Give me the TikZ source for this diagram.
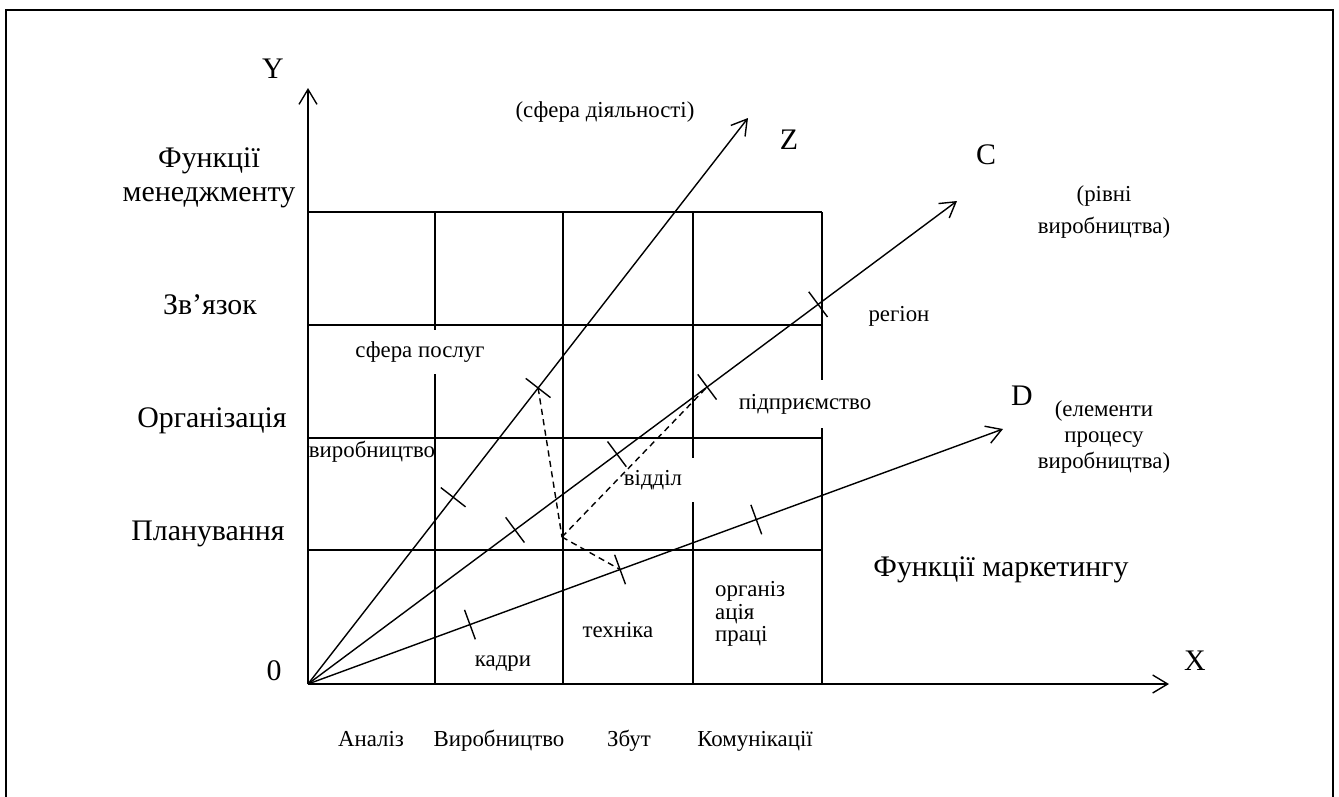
\documentclass[tikz,border=0pt]{standalone}
\usepackage{fontspec}
\setmainfont{Liberation Serif}
\usetikzlibrary{arrows.meta}
\begin{document}
\begin{tikzpicture}[x=0.02cm,y=-0.02cm]
	% Styles (MODIFIABLES)
	\tikzstyle{fleche}=[-{Straight Barb[length=3mm,width=3.6mm]},line width=0.8pt]
	\tikzstyle{trait}=[line width=0.8pt]
	\tikzstyle{pointille}=[line width=0.8pt,dash pattern=on 3.5pt off 2.5pt]
	\tikzstyle{cadre}=[line width=1.3pt]
	\tikzstyle{grandbloc}=[font=\fontsize{17}{19}\selectfont]
	\tikzstyle{grand}=[grandbloc,text height=12pt,text depth=3.5pt]
	\tikzstyle{petitbloc}=[font=\fontsize{13}{15}\selectfont]
	\tikzstyle{petit}=[petitbloc,text height=9.5pt,text depth=3pt]
	\tikzstyle{cache}=[petit,fill=white,inner sep=2pt,minimum height=0.88cm]
	\tikzstyle{encoche}=[sloped,inner sep=0pt,minimum width=0pt,minimum height=0.6cm]
	% Dimensions (MODIFIABLES)
	\def\ColA{308} \def\ColB{435} \def\ColC{563} \def\ColD{693} \def\ColE{822}
	\def\LigA{212} \def\LigB{325} \def\LigC{438} \def\LigD{550} \def\LigE{684}
	\useasboundingbox (0,0) rectangle (1339,796);
	\draw[cadre] (6,800) -- (6,10) -- (1333,10) -- (1333,800);
	% Grille
	\draw[trait] (\ColA,\LigA) -- (\ColE,\LigA);
	\draw[trait] (\ColA,\LigB) -- (\ColE,\LigB);
	\draw[trait] (\ColA,\LigC) -- (\ColE,\LigC);
	\draw[trait] (\ColA,\LigD) -- (\ColE,\LigD);
	\draw[trait] (\ColB,\LigA) -- (\ColB,\LigE);
	\draw[trait] (\ColC,\LigA) -- (\ColC,\LigE);
	\draw[trait] (\ColD,\LigA) -- (\ColD,\LigE);
	\draw[trait] (\ColE,\LigA) -- (\ColE,\LigE);
	% Noeuds (MODIFIABLES)
	\coordinate (O) at (\ColA,\LigE);
	\coordinate (Yfin) at (\ColA,88);
	\coordinate (Xfin) at (1169,\LigE);
	\coordinate (Zfin) at (748,118);
	\coordinate (Cfin) at (957,201);
	\coordinate (Dfin) at (1003,429);
	\coordinate (P) at (562,537);
	%
	\node[grand] (lY) at (273,71) {Y};
	\node[grand] (lX) at (1195,663) {X};
	\node[grand] (l0) at (274,673) {0};
	\node[grand] (lZ) at (789,142) {Z};
	\node[grand] (lC) at (986,157) {C};
	\node[grand] (lD) at (1022,398) {D};
	\node[petit] (sphere) at (605,112) {(сфера діяльності)};
	\node[petitbloc,align=center] (niveaux) at (1104,212) {(рівні\\[3pt]виробництва)};
	\node[petitbloc,align=center,font=\fontsize{13}{14.8}\selectfont] (elements) at (1104,437) {(елементи\\процесу\\виробництва)};
	\node[grand] (marketing) at (1001,569) {Функції маркетингу};
	%
	\node[grandbloc,align=center] (management) at (209,178) {Функції\\менеджменту};
	\node[grand] (lien) at (210,307) {Зв’язок};
	\node[grand] (organisation) at (212,420) {Організація};
	\node[grand] (planification) at (208,533) {Планування};
	%
	\node[petit] (analyse) at (371,741) {Аналіз};
	\node[petit] (production) at (499,741) {Виробництво};
	\node[petit] (vente) at (629,741) {Збут};
	\node[petit] (communication) at (755,741) {Комунікації};
	%
	\node[cache] (services) at (420,352) {сфера послуг};
	\node[cache,minimum width=2cm] (departement) at (653,480) {відділ};
	\node[cache,minimum height=0.96cm] (entreprise) at (805,404) {підприємство};
	\node[petit] (industrie) at (372,452) {виробництво};
	\node[petit] (region) at (899,316) {регіон};
	\node[petit] (personnel) at (503,661) {кадри};
	\node[petit] (technique) at (618,632) {техніка};
	\node[petitbloc,align=left,anchor=west,font=\fontsize{13}{12.8}\selectfont] (travail) at (709,614) {організ\\ація\\праці};
	% Arcs (MODIFIABLES : Styles)
	\draw[fleche] (O) -- (Yfin);
	\draw[fleche] (O) -- (Xfin);
	\draw[fleche] (O) -- (Zfin) node[encoche,pos=0.33] (Za) {} node[encoche,pos=0.523] (Zb) {};
	\draw[fleche] (O) -- (Cfin) node[encoche,pos=0.319] (Ca) {} node[encoche,pos=0.476] (Cb) {}
		node[encoche,pos=0.615] (Cc) {} node[encoche,pos=0.786] (Cd) {};
	\draw[fleche] (O) -- (Dfin) node[encoche,pos=0.233] (Da) {} node[encoche,pos=0.449] (Db) {}
		node[encoche,pos=0.645] (Dc) {};
	%
	\draw[trait] (Za.north) -- (Za.south);
	\draw[trait] (Zb.north) -- (Zb.south);
	\draw[trait] (Ca.north) -- (Ca.south);
	\draw[trait] (Cb.north) -- (Cb.south);
	\draw[trait] (Cc.north) -- (Cc.south);
	\draw[trait] (Cd.north) -- (Cd.south);
	\draw[trait] (Da.north) -- (Da.south);
	\draw[trait] (Db.north) -- (Db.south);
	\draw[trait] (Dc.north) -- (Dc.south);
	%
	\draw[pointille] (Zb.center) -- (P);
	\draw[pointille] (P) -- (Cc.center);
	\draw[pointille] (P) -- (Db.center);
\end{tikzpicture}
\end{document}
